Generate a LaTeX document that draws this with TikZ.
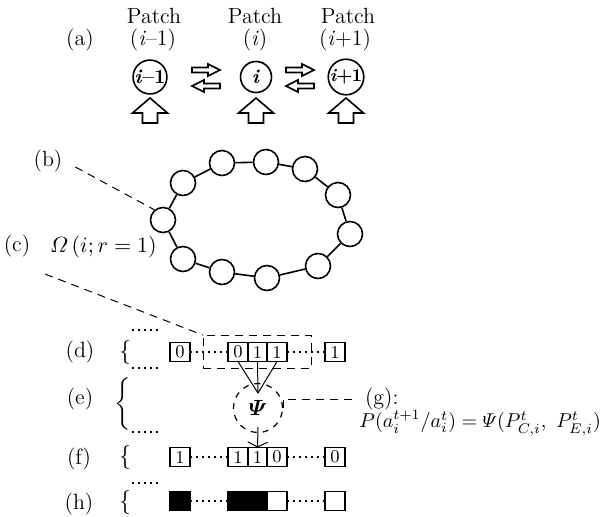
\documentclass[tikz,border=0pt]{standalone}
\usepackage{amsmath}
\usepackage{bm}
\usetikzlibrary{positioning,fit,arrows.meta}

\begin{document}
\begin{tikzpicture}[x=0.5pt,y=-0.5pt,
        every node/.style={font=\fontsize{11}{13}\selectfont},
        patch/.style={draw,circle,line width=0.8pt,minimum size=15.5pt,inner sep=0pt,font=\fontsize{10}{12}\selectfont\bfseries},
        ringcell/.style={draw,circle,line width=0.8pt,minimum size=12.5pt,inner sep=0pt},
        cell/.style={draw,line width=0.8pt,minimum width=9.75pt,minimum height=9.5pt,inner sep=0pt,outer sep=0pt,font=\small},
        blackcell/.style={cell,fill=black},
        bracket/.style={font=\fontsize{13}{15}\selectfont},
        dashline/.style={line width=0.5pt,dash pattern=on 4pt off 3pt},
        dotline/.style={line width=0.9pt,dash pattern=on 0.9pt off 2.1pt},
        blockarrow/.style={line width=0.8pt,line join=miter}]
        \useasboundingbox (0,0) rectangle (613,516);

        % (a) patches
        \node (la) at (80,40) {(a)};
        \node (t1) at (154,16) {Patch};
        \node (t2) at (255,16) {Patch};
        \node (t3) at (348,16) {Patch};
        \node (u1) at (153,40) {(\textit{i}--1)};
        \node (u2) at (255,40) {(\textit{i})};
        \node (u3) at (345,40) {(\textit{i}+1)};

        \node[patch] (p1) at (150,77) {\textit{i}--1};
        \node[patch] (p2) at (256,77) {\textit{i}};
        \node[patch] (p3) at (346,77) {\small\textit{i}\kern-0.5pt+\kern-0.5pt1};

        \draw[blockarrow] (192,67.5) -- ++(16,0) -- ++(0,-3.5) -- ++(12,6) -- ++(-12,6) -- ++(0,-3.5) -- ++(-16,0) -- cycle;
        \draw[blockarrow] (220,83.5) -- ++(-16,0) -- ++(0,-3.5) -- ++(-12,6) -- ++(12,6) -- ++(0,-3.5) -- ++(16,0) -- cycle;
        \draw[blockarrow] (286,67.5) -- ++(16,0) -- ++(0,-3.5) -- ++(12,6) -- ++(-12,6) -- ++(0,-3.5) -- ++(-16,0) -- cycle;
        \draw[blockarrow] (314,83.5) -- ++(-16,0) -- ++(0,-3.5) -- ++(-12,6) -- ++(12,6) -- ++(0,-3.5) -- ++(16,0) -- cycle;

        \draw[blockarrow] (142.5,123) -- ++(0,-10) -- ++(-10,0) -- ++(17.5,-15) -- ++(17.5,15) -- ++(-10,0) -- ++(0,10) -- cycle;
        \draw[blockarrow] (248.5,123) -- ++(0,-10) -- ++(-10,0) -- ++(17.5,-15) -- ++(17.5,15) -- ++(-10,0) -- ++(0,10) -- cycle;
        \draw[blockarrow] (338.5,123) -- ++(0,-10) -- ++(-10,0) -- ++(17.5,-15) -- ++(17.5,15) -- ++(-10,0) -- ++(0,10) -- cycle;

        % (b) ring of patches
        \node (lb) at (48,161) {(b)};
        \node[ringcell] (r1) at (163,220) {};
        \node[ringcell] (r2) at (183,183) {};
        \node[ringcell] (r3) at (222,163) {};
        \node[ringcell] (r4) at (266,162) {};
        \node[ringcell] (r5) at (305,169) {};
        \node[ringcell] (r6) at (338,195) {};
        \node[ringcell] (r7) at (350,234) {};
        \node[ringcell] (r8) at (318,266) {};
        \node[ringcell] (r9) at (267,278) {};
        \node[ringcell] (r10) at (222,272) {};
        \node[ringcell] (r11) at (183,259) {};
        \draw[line width=0.8pt] (r1) -- (r2) -- (r3) -- (r4) -- (r5) -- (r6) -- (r7) -- (r8) -- (r9) -- (r10) -- (r11) -- (r1);
        \draw[dashline] ([shift={(3pt,-3pt)}]lb.east) -- (r1.130);

        % (c) neighbourhood
        \node (lc) at (17,246) {(c)};
        \node[anchor=west] (om) at (43,247) {$\varOmega\,(i; r = 1)$};

        % (d) state at t
        \node (ld) at (80,352) {(d)};
        \node[bracket] (bd) at (125,352) {$\{$};
        \node[cell] (d1) at (180,352) {0};
        \node[cell] (d2) at (238,352) {0};
        \node[cell,right=0pt of d2] (d3) {1};
        \node[cell,right=0pt of d3] (d4) {1};
        \node[cell] (d5) at (335,352) {1};
        \draw[dotline] (d1) -- (d2);
        \draw[dotline] (d4) -- (d5);
        \node[draw,dashline,fit=(d2)(d4),inner xsep=12.5pt,inner ysep=3.5pt] (win) {};
        \draw[dashline] ([shift={(4pt,-5pt)}]lc.south east) -- (win.north west);

        % (e) rule
        \node (le) at (80,399) {(e)};
        \node (be) at (123,404) {$\bigg\{$};
        \node[draw,circle,line width=0.6pt,dash pattern=on 3pt off 3pt,minimum size=24.5pt,inner sep=0pt] (psi) at (258,408) {$\bm{\varPsi}$};
        \coordinate (conv) at (258,393);
        \draw[line width=0.5pt] (d2.south) -- (conv);
        \draw[line width=0.5pt] (d3.south) -- (conv);
        \draw[line width=0.5pt] (d4.south) -- (conv);

        % (g) transition probability
        \node[anchor=west] (lg) at (358,399) {(g):};
        \node[anchor=west,font=\fontsize{10}{12}\selectfont,inner sep=0pt] (fm) at (359,423) {$P(a_i^{t+1}/a_i^t) = \varPsi(P_{C,i}^t,\ P_{E,i}^t)$};
        \draw[dashline] (psi.east) |- (lg.west);

        % (f) state at t+1
        \node (lf) at (79,459) {(f)};
        \node[bracket] (bf) at (125,457) {$\{$};
        \node[cell] (f1) at (180,457) {1};
        \node[cell] (f2) at (238,457) {1};
        \node[cell,right=0pt of f2] (f3) {1};
        \node[cell,right=0pt of f3] (f4) {0};
        \node[cell] (f5) at (335,457) {0};
        \draw[dotline] (f1) -- (f2);
        \draw[dotline] (f4) -- (f5);
        \draw[line width=0.5pt,-{Straight Barb[length=2.5pt,width=10pt]}] ([yshift=3pt]psi.south) -- (f3.north);

        % (h) occupied patches
        \node (lh) at (79,504) {(h)};
        \node[bracket] (bh) at (125,502) {$\{$};
        \node[blackcell] (h1) at (180,501) {};
        \node[blackcell] (h2) at (238,501) {};
        \node[blackcell,right=0pt of h2] (h3) {};
        \node[cell,right=0pt of h3] (h4) {};
        \node[cell] (h5) at (335,501) {};
        \draw[dotline] (h1) -- (h2);
        \draw[dotline] (h4) -- (h5);

        % short dotted marks
        \draw[dotline] (132,330) -- (158,330);
        \draw[dotline] (132,368) -- (158,368);
        \draw[dotline] (132,432) -- (158,432);
        \draw[dotline] (132,483) -- (158,483);
    \end{tikzpicture}
\end{document}
